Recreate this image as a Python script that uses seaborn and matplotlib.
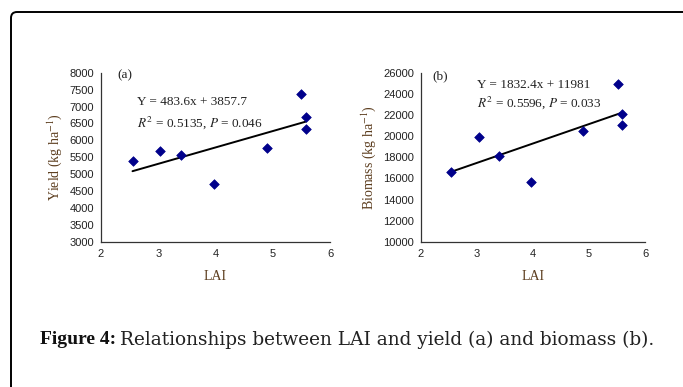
import numpy as np
import pandas as pd
import matplotlib
matplotlib.use("Agg")
import matplotlib.pyplot as plt
from matplotlib.patches import FancyBboxPatch
import seaborn as sns

# LAI observations and the matching yield / biomass values
lai = [2.55, 3.03, 3.40, 3.97, 4.90, 5.50, 5.58, 5.58]
lai_b = [2.53, 3.03, 3.40, 3.97, 4.90, 5.52, 5.58, 5.58]
yield_vals = [5380, 5680, 5560, 4700, 5780, 7360, 6680, 6330]
biomass_vals = [16600, 19900, 18150, 15700, 20450, 24900, 22100, 21100]

# Fitted regression coefficients (slope, intercept)
fit_a = (483.6, 3857.7)
fit_b = (1832.4, 11981)

x_ticks = [2, 3, 4, 5, 6]
y_ticks_a = list(range(3000, 8001, 500))
y_ticks_b = list(range(10000, 26001, 2000))

sns.set_style("white")
plt.rcParams["font.family"] = ["Liberation Sans", "DejaVu Sans"]
plt.rcParams["mathtext.fontset"] = "stix"

fig = plt.figure(figsize=(6.83, 3.87), dpi=100)
label_color = "#5c3d1e"
serif = ["Liberation Serif", "DejaVu Serif"]
marker_color = "#00008B"


def panel(ax, x, y, fit, yticks, ylabel, tag, eq1, eq2, eqpos, tagpos):
    df = pd.DataFrame({"LAI": x, "val": y})
    sns.scatterplot(data=df, x="LAI", y="val", ax=ax, marker="D", s=24,
                    color=marker_color, edgecolor=marker_color, linewidth=0.5,
                    zorder=3)
    xs = np.array([min(x), max(x)])
    line_df = pd.DataFrame({"LAI": xs, "fit": fit[0] * xs + fit[1]})
    sns.lineplot(data=line_df, x="LAI", y="fit", ax=ax, color="black",
                 linewidth=1.4, zorder=2)
    ax.set_xlim(2, 6)
    ax.set_ylim(yticks[0], yticks[-1])
    ax.set_xticks(x_ticks)
    ax.set_yticks(yticks)
    ax.tick_params(axis="both", labelsize=8, length=3, width=0.8,
                   direction="out", colors="#222222", pad=2)
    for s in ["top", "right"]:
        ax.spines[s].set_visible(False)
    for s in ["left", "bottom"]:
        ax.spines[s].set_color("#333333")
        ax.spines[s].set_linewidth(0.9)
    ax.set_xlabel("LAI", family=serif, fontsize=10, color=label_color,
                  labelpad=8)
    ax.set_ylabel(ylabel, family=serif, fontsize=10, color=label_color,
                  labelpad=4)
    ax.yaxis.label.set_math_fontfamily("stix")
    ax.text(tagpos[0], tagpos[1], tag, family=serif, fontsize=9.5,
            color="#222222", va="center")
    ax.text(eqpos[0], eqpos[1], eq1, family=serif, fontsize=9.5,
            color="#222222", va="center")
    t = ax.text(eqpos[0], eqpos[2], eq2, family=serif, fontsize=9.5,
                color="#222222", va="center")
    t.set_math_fontfamily("stix")


ax1 = fig.add_axes([0.1479, 0.3747, 0.3353, 0.4375])
panel(ax1, lai, yield_vals, fit_a, y_ticks_a,
      r"Yield (kg ha$^{-1}$)", "(a)",
      "Y = 483.6x + 3857.7",
      r"$R^2$ = 0.5135, $P$ = 0.046",
      (2.63, 7130, 6530), (2.28, 7930))

ax2 = fig.add_axes([0.6164, 0.3747, 0.3280, 0.4375])
panel(ax2, lai_b, biomass_vals, fit_b, y_ticks_b,
      r"Biomass (kg ha$^{-1}$)", "(b)",
      "Y = 1832.4x + 11981",
      r"$R^2$ = 0.5596, $P$ = 0.033",
      (3.0, 24870, 23130), (2.21, 25700))

# Rounded frame around the figure
frame = FancyBboxPatch((11, -30), 680, 375 + 30,
                       boxstyle="round,pad=0,rounding_size=6",
                       transform=None, fill=False, edgecolor="black",
                       linewidth=1.4, clip_on=False)
fig.patches.append(frame)

# Caption: bold lead-in followed by the description
cap_y = 1 - 340 / 387
lead = fig.text(40 / 683, cap_y, "Figure 4:", family=serif,
                fontweight="bold", fontsize=14, va="center", ha="left",
                color="#111111")
renderer = fig.canvas.get_renderer()
bb = lead.get_window_extent(renderer)
fig.text((bb.x1 + 4) / fig.bbox.width, cap_y,
         "Relationships between LAI and yield (a) and biomass (b).",
         family=["DejaVu Serif"], fontsize=13.3, va="center", ha="left",
         color="#222222")

fig.savefig("out.png", dpi=100)
